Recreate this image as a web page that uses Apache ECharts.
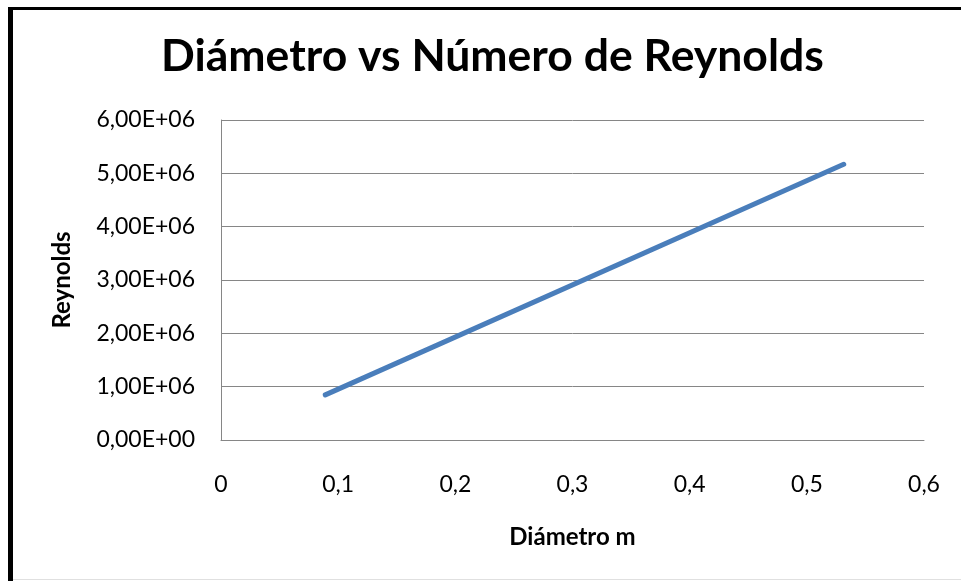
<!DOCTYPE html>
<html>
<head>
<meta charset="utf-8">
<script src="https://cdn.jsdelivr.net/npm/echarts@6/dist/echarts.min.js"></script>
<style>
  html, body { margin: 0; padding: 0; background: #fff; }
  #chart { width: 961px; height: 581px; }
</style>
</head>
<body>
<div id="chart"></div>
<script>
// Diameter (m) and corresponding Reynolds number
const diametros = [0.089, 0.5315];
const reynolds = [846000, 5170000];

const xTicks = [0, 0.1, 0.2, 0.3, 0.4, 0.5, 0.6];
const yTicks = [0, 1e6, 2e6, 3e6, 4e6, 5e6, 6e6];

const FONT = 'Lato, "Open Sans", sans-serif';

function sci(v) {
  if (v === 0) return '0,00E+00';
  const e = Math.floor(Math.log10(Math.abs(v)));
  const m = v / Math.pow(10, e);
  return m.toFixed(2).replace('.', ',') + 'E+' + String(e).padStart(2, '0');
}

const chart = echarts.init(document.getElementById('chart'), null, { renderer: 'canvas' });
chart.setOption({
  backgroundColor: '#fff',
  animation: false,
  title: {
    text: 'Diámetro vs Número de Reynolds',
    left: 156,
    top: 29,
    textStyle: { fontFamily: FONT, fontSize: 44.5, fontWeight: 'bold', color: '#000' }
  },
  grid: { left: 221, right: 37, top: 120, bottom: 141 },
  xAxis: {
    type: 'value',
    min: xTicks[0],
    max: xTicks[xTicks.length - 1],
    interval: 0.1,
    name: 'Diámetro m',
    nameLocation: 'middle',
    nameGap: 85,
    nameTextStyle: { fontFamily: FONT, fontSize: 24, fontWeight: 'bold', color: '#000' },
    axisLine: { show: true, lineStyle: { color: '#868686', width: 1 } },
    axisTick: { show: false },
    splitLine: { show: false },
    axisLabel: {
      margin: 33,
      fontFamily: FONT, fontSize: 23, color: '#000',
      formatter: v => String(Math.round(v * 10) / 10).replace('.', ',')
    }
  },
  yAxis: {
    type: 'value',
    min: yTicks[0],
    max: yTicks[yTicks.length - 1],
    interval: 1e6,
    name: 'Reynolds',
    nameLocation: 'middle',
    nameRotate: 90,
    nameGap: 147,
    nameTextStyle: { fontFamily: FONT, fontSize: 24, fontWeight: 'bold', color: '#000' },
    axisLine: { show: true, lineStyle: { color: '#868686', width: 1 } },
    axisTick: { show: false },
    splitLine: { show: true, lineStyle: { color: '#868686', width: 1 } },
    axisLabel: {
      margin: 26,
      fontFamily: FONT, fontSize: 23, color: '#000',
      formatter: v => sci(v)
    }
  },
  series: [{
    type: 'line',
    data: diametros.map((d, i) => [d, reynolds[i]]),
    showSymbol: false,
    lineStyle: { color: '#4a7ebb', width: 5, cap: 'round' }
  }],
  graphic: [
    { type: 'rect', shape: { x: 8, y: 7, width: 5, height: 574 }, style: { fill: '#000' } },
    { type: 'rect', shape: { x: 8, y: 7, width: 953, height: 3 }, style: { fill: '#000' } },
    { type: 'rect', shape: { x: 13, y: 579, width: 948, height: 1 }, style: { fill: '#e0e0e0' } }
  ]
});
</script>
</body>
</html>
